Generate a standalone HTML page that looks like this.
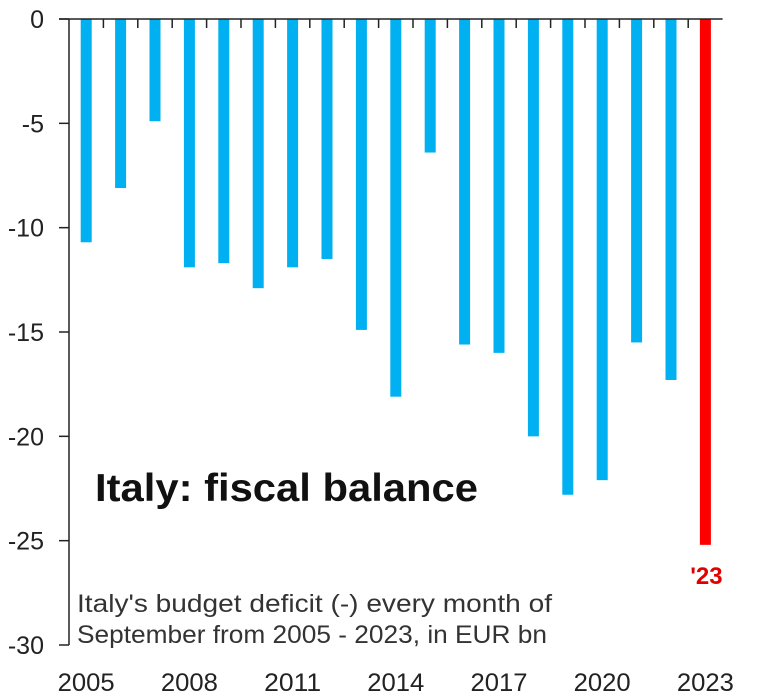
<!DOCTYPE html>
<html><head><meta charset="utf-8"><style>
html,body{margin:0;padding:0;background:#fff;}
svg{display:block;font-family:"Liberation Sans",sans-serif;}
</style></head><body>
<svg id="chart" width="777" height="698">
<g id="bars"></g>
<g id="axes"></g>
<text x="95" y="501" font-size="39" font-weight="bold" fill="#111" textLength="383" lengthAdjust="spacingAndGlyphs">Italy: fiscal balance</text>
<text x="77" y="612" font-size="25" fill="#333" textLength="475" lengthAdjust="spacingAndGlyphs">Italy's budget deficit (-) every month of</text>
<text x="77" y="643" font-size="25" fill="#333" textLength="470" lengthAdjust="spacingAndGlyphs">September from 2005 - 2023,  in EUR bn</text>
</svg>
<script>
const years = [2005,2006,2007,2008,2009,2010,2011,2012,2013,2014,2015,2016,2017,2018,2019,2020,2021,2022,2023];
const values = [-10.7,-8.1,-4.9,-11.9,-11.7,-12.9,-11.9,-11.5,-14.9,-18.1,-6.4,-15.6,-16.0,-20.0,-22.8,-22.1,-15.5,-17.3,-25.2];
const yTicks = [0,-5,-10,-15,-20,-25,-30];
const xLabelYears = [2005,2008,2011,2014,2017,2020,2023];
const highlightLabel = "'23";

const NS = "http://www.w3.org/2000/svg";
const x0 = 69, band = 34.4, barW = 11;
const yTop = 19, yBot = 645;
function y(v){ return yTop + (0 - v) / 30 * (yBot - yTop); }
function xc(i){ return x0 + band * (i + 0.5); }
function mk(tag, attrs, parent){ const e = document.createElementNS(NS, tag); for (const k in attrs) e.setAttribute(k, attrs[k]); parent.appendChild(e); return e; }
const bars = document.getElementById('bars'), axes = document.getElementById('axes');

values.forEach((v, i) => {
  const last = i === values.length - 1;
  const r = mk('rect', {x: xc(i) - barW/2, y: y(0), width: barW, height: y(v) - y(0), fill: last ? '#ff0000' : '#00b0f0'}, bars);
  
  
  if (last) {
    const t = mk('text', {x: xc(i) + 1, y: y(v) + 39, 'font-size': 24, 'font-weight': 'bold', fill: '#e00000', 'text-anchor': 'middle'}, bars);
    t.textContent = highlightLabel;
    
    
  }
});

const yAxis = mk('line', {x1: x0, y1: yTop, x2: x0, y2: yBot, stroke: '#222', 'stroke-width': 1.5}, axes);


const xAxis = mk('line', {x1: 59, y1: yTop, x2: x0 + band * years.length, y2: yTop, stroke: '#222', 'stroke-width': 1.5}, axes);



yTicks.forEach(v => {
  const tk = mk('line', {x1: 59, y1: y(v), x2: x0, y2: y(v), stroke: '#222', 'stroke-width': 1.5}, axes);
  
  
  const t = mk('text', {x: 44, y: y(v) + 9, 'font-size': 25, fill: '#222', 'text-anchor': 'end'}, axes);
  t.textContent = v;
  
  
});
for (let i = 1; i < years.length; i++) {
  const tk = mk('line', {x1: x0 + band * i, y1: yTop, x2: x0 + band * i, y2: yTop + 9, stroke: '#222', 'stroke-width': 1.5}, axes);
  
  
}
xLabelYears.forEach(yr => {
  const i = years.indexOf(yr);
  const t = mk('text', {x: xc(i), y: 691, 'font-size': 25, fill: '#222', 'text-anchor': 'middle', textLength: 57, lengthAdjust: 'spacingAndGlyphs'}, axes);
  t.textContent = yr;
  
  
});
</script>
</body></html>
